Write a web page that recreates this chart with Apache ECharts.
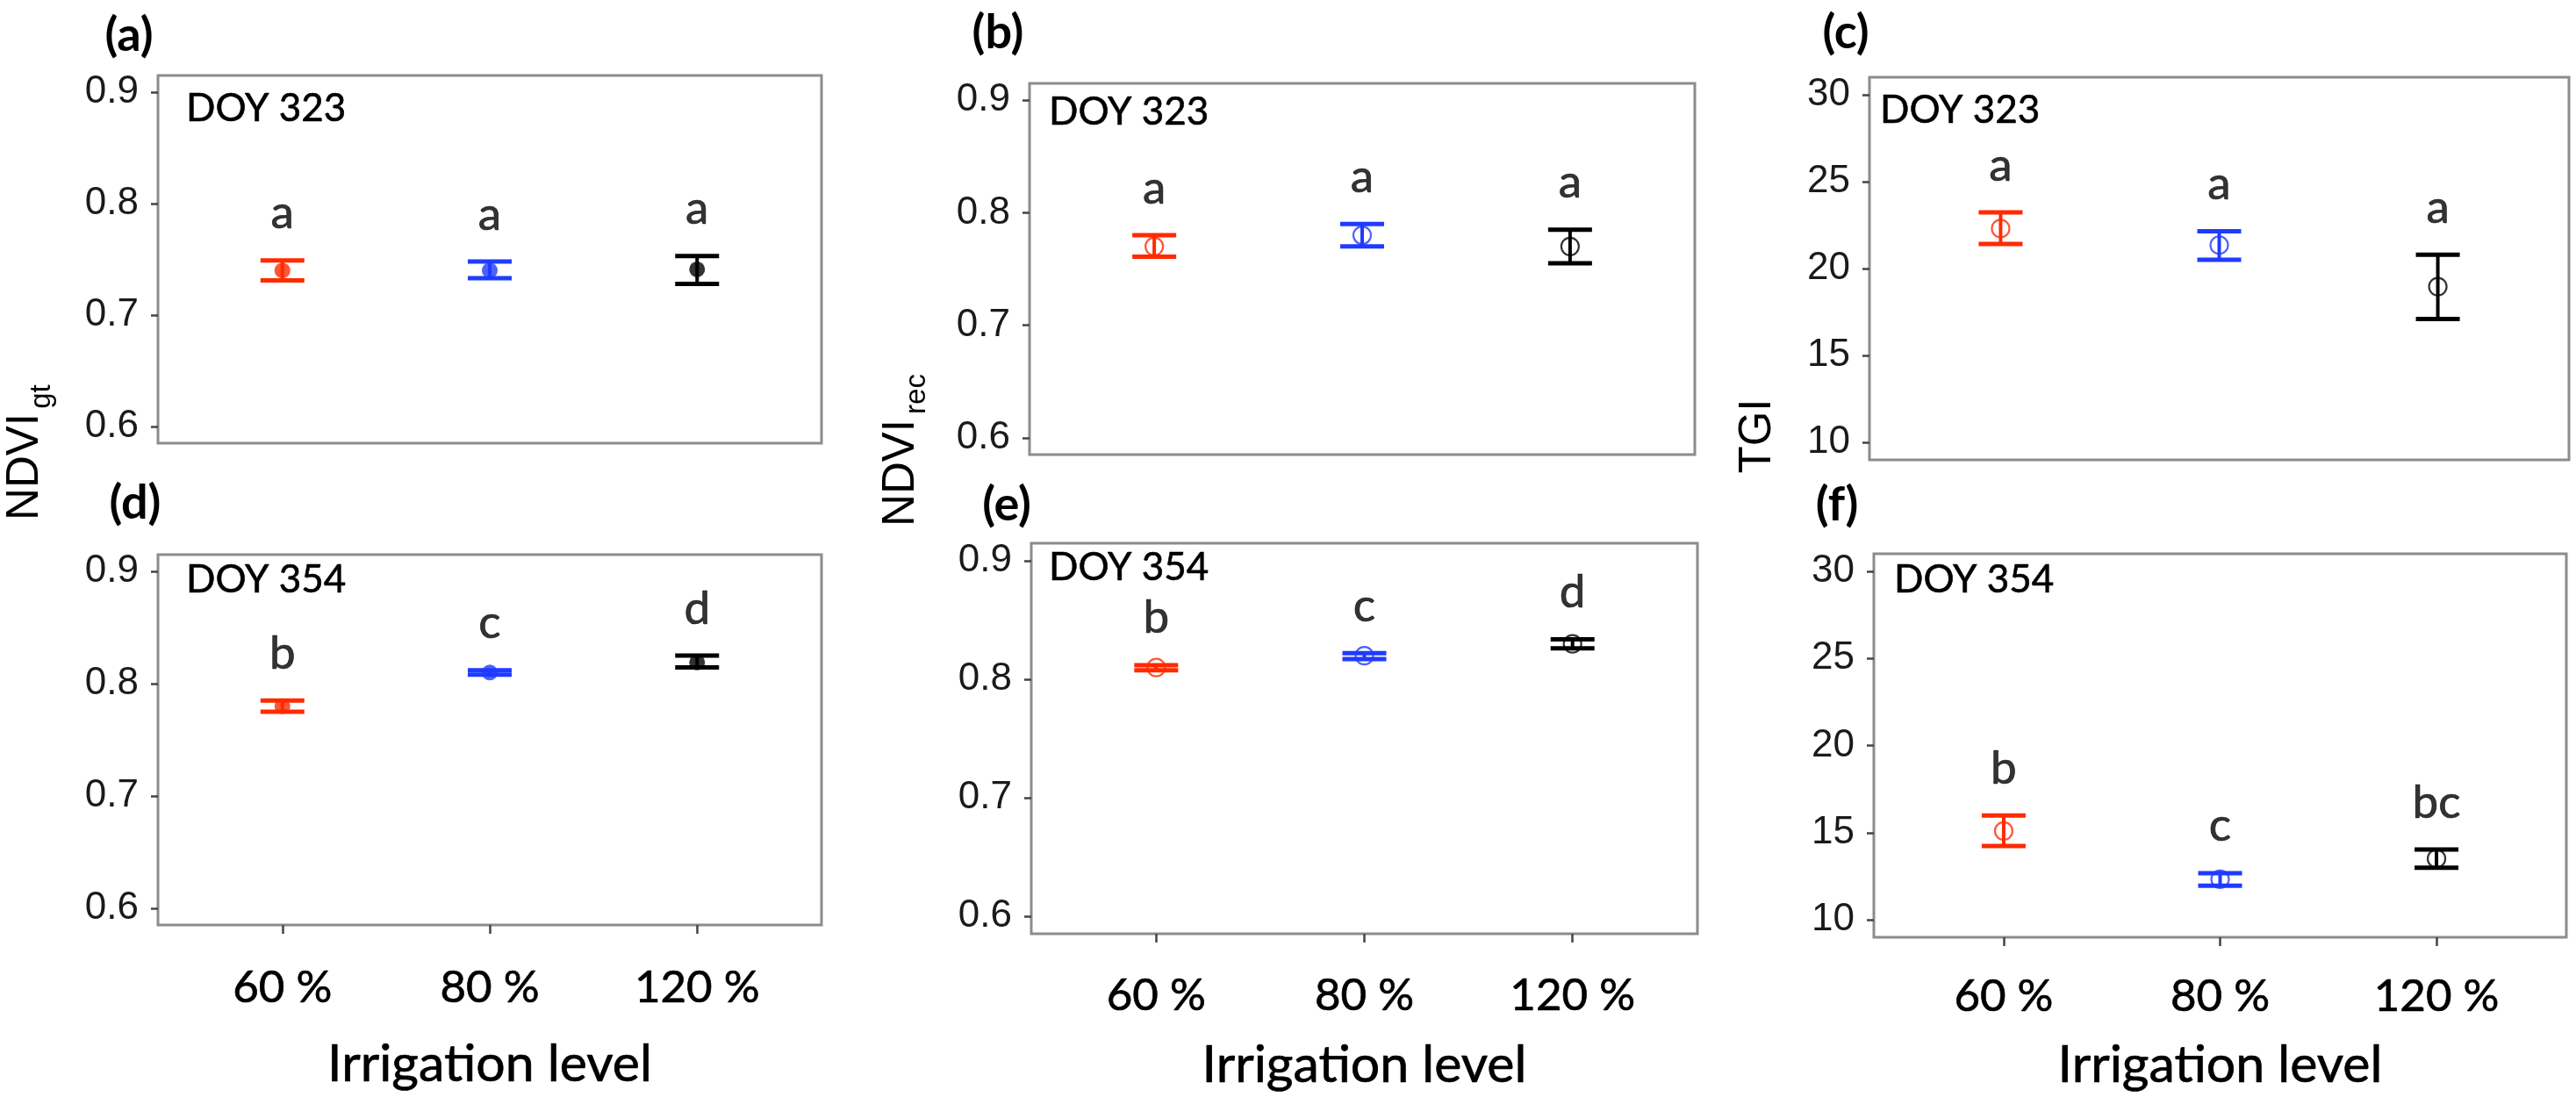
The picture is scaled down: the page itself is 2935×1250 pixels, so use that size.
<!DOCTYPE html>
<html>
<head>
<meta charset="utf-8">
<script src="https://cdn.jsdelivr.net/npm/echarts@6/dist/echarts.min.js"></script>
<style>
html,body{margin:0;padding:0;background:#fff;}
#chart{width:2935px;height:1250px;}
</style>
</head>
<body>
<div id="chart"></div>
<script>
// ---------------- DATA ----------------
const categories = ['60 %', '80 %', '120 %'];
const groupColors = ['#FF2A00', '#1F3BFF', '#000000'];
const ndviTicks = [0.6, 0.7, 0.8, 0.9];
const tgiTicks = [10, 15, 20, 25, 30];
const panelTags = ['(a)', '(b)', '(c)', '(d)', '(e)', '(f)'];
const doyLabels = ['DOY 323', 'DOY 323', 'DOY 323', 'DOY 354', 'DOY 354', 'DOY 354'];

// (a) NDVIgt, DOY 323
const aMean = [0.740, 0.740, 0.741];
const aLow = [0.731, 0.733, 0.728];
const aHigh = [0.749, 0.748, 0.753];
const aLetters = ['a', 'a', 'a'];
// (b) NDVIrec, DOY 323
const bMean = [0.770, 0.780, 0.770];
const bLow = [0.761, 0.770, 0.755];
const bHigh = [0.780, 0.790, 0.785];
const bLetters = ['a', 'a', 'a'];
// (c) TGI, DOY 323
const cMean = [22.3, 21.35, 18.96];
const cLow = [21.41, 20.5, 17.1];
const cHigh = [23.23, 22.15, 20.8];
const cLetters = ['a', 'a', 'a'];
// (d) NDVIgt, DOY 354
const dMean = [0.780, 0.810, 0.819];
const dLow = [0.775, 0.808, 0.8145];
const dHigh = [0.785, 0.812, 0.825];
const dLetters = ['b', 'c', 'd'];
// (e) NDVIrec, DOY 354
const eMean = [0.810, 0.820, 0.830];
const eLow = [0.8077, 0.8172, 0.8262];
const eHigh = [0.812, 0.8222, 0.8338];
const eLetters = ['b', 'c', 'd'];
// (f) TGI, DOY 354
const fMean = [15.1, 12.33, 13.51];
const fLow = [14.24, 11.96, 12.99];
const fHigh = [15.99, 12.68, 14.03];
const fLetters = ['b', 'c', 'bc'];

// ---------------- LAYOUT / STYLE ----------------
const panelData = [
  {mean: aMean, low: aLow, high: aHigh, letters: aLetters, ticks: ndviTicks, min: 0.585, max: 0.915, filled: true},
  {mean: bMean, low: bLow, high: bHigh, letters: bLetters, ticks: ndviTicks, min: 0.585, max: 0.915, filled: false},
  {mean: cMean, low: cLow, high: cHigh, letters: cLetters, ticks: tgiTicks, min: 9, max: 31, filled: false},
  {mean: dMean, low: dLow, high: dHigh, letters: dLetters, ticks: ndviTicks, min: 0.585, max: 0.915, filled: true},
  {mean: eMean, low: eLow, high: eHigh, letters: eLetters, ticks: ndviTicks, min: 0.585, max: 0.915, filled: false},
  {mean: fMean, low: fLow, high: fHigh, letters: fLetters, ticks: tgiTicks, min: 9, max: 31, filled: false}
];
const panelBoxes = [
  {left: 180, top: 86, width: 756, height: 419, bottom: false},
  {left: 1173, top: 95, width: 758, height: 423, bottom: false},
  {left: 2130, top: 88, width: 797, height: 436, bottom: false},
  {left: 180, top: 632, width: 756, height: 422, bottom: true, labelMargin: 46, nameGap: 129},
  {left: 1175, top: 619, width: 759, height: 445, bottom: true, labelMargin: 45, nameGap: 120},
  {left: 2135, top: 631, width: 789, height: 437, bottom: true, labelMargin: 42, nameGap: 116}
];
const tagPos = [[147, 41], [1137, 38], [2103, 38], [154, 574], [1147, 576], [2093, 576]];
const doyPos = [[212, 124], [1195, 128], [2142, 126], [212, 661], [1195, 647], [2158, 661]];

const SANS = '"Liberation Sans", Arial, sans-serif';
const CAL = 'Lato, "Open Sans", sans-serif';
const THICK = {textBorderColor: '#000', textBorderWidth: 0.7};

const grids = [], xAxes = [], yAxes = [], series = [], graphics = [];

panelBoxes.forEach((b, i) => {
  const p = panelData[i];
  grids.push({
    left: b.left, top: b.top, width: b.width, height: b.height,
    containLabel: false, outerBoundsMode: 'none',
    show: true, backgroundColor: '#fff', borderColor: '#8c8c8c', borderWidth: 3
  });
  xAxes.push({
    type: 'value', gridIndex: i, min: 0.4, max: 3.6,
    splitLine: {show: false}, axisLine: {show: false},
    axisTick: {show: b.bottom, customValues: [1, 2, 3], length: 10, lineStyle: {color: '#444', width: 2.5}},
    axisLabel: Object.assign({
      show: b.bottom, customValues: [1, 2, 3], margin: b.labelMargin || 40,
      formatter: v => categories[Math.round(v) - 1],
      fontFamily: CAL, fontSize: 51, color: '#000'
    }, THICK),
    name: b.bottom ? 'Irrigation level' : '',
    nameLocation: 'middle', nameGap: b.nameGap || 120,
    nameTextStyle: Object.assign({fontFamily: CAL, fontSize: 59, color: '#000'}, THICK)
  });
  yAxes.push({
    type: 'value', gridIndex: i, min: p.min, max: p.max,
    splitLine: {show: false}, axisLine: {show: false},
    axisTick: {show: true, customValues: p.ticks, length: 8, lineStyle: {color: '#444', width: 2.5}},
    axisLabel: {show: true, customValues: p.ticks, margin: 22, fontFamily: SANS, fontSize: 44, color: '#1a1a1a'}
  });

  // error bars
  series.push({
    type: 'custom', xAxisIndex: i, yAxisIndex: i, silent: true, z: 2,
    data: categories.map((c, k) => [k + 1, p.low[k], p.high[k], k]),
    encode: {x: 0, y: [1, 2]},
    renderItem: function (params, api) {
      const x = api.value(0);
      const pLo = api.coord([x, api.value(1)]);
      const pHi = api.coord([x, api.value(2)]);
      const col = groupColors[api.value(3)];
      const hw = 25;
      return {
        type: 'group',
        children: [
          {type: 'line', shape: {x1: pLo[0], y1: pLo[1], x2: pHi[0], y2: pHi[1]}, style: {stroke: col, lineWidth: 4}},
          {type: 'line', shape: {x1: pLo[0] - hw, y1: pLo[1], x2: pLo[0] + hw, y2: pLo[1]}, style: {stroke: col, lineWidth: 5}},
          {type: 'line', shape: {x1: pHi[0] - hw, y1: pHi[1], x2: pHi[0] + hw, y2: pHi[1]}, style: {stroke: col, lineWidth: 5}}
        ]
      };
    }
  });
  // mean points
  series.push({
    type: 'scatter', xAxisIndex: i, yAxisIndex: i, silent: true, z: 3,
    symbol: 'circle', symbolSize: p.filled ? 18 : 20,
    data: categories.map((c, k) => ({
      value: [k + 1, p.mean[k]],
      itemStyle: p.filled
        ? {color: groupColors[k], borderWidth: 0}
        : {color: 'rgba(0,0,0,0)', borderColor: groupColors[k], borderWidth: 2.2}
    }))
  });
  // significance letters
  series.push({
    type: 'scatter', xAxisIndex: i, yAxisIndex: i, silent: true, z: 4,
    symbolSize: 0, itemStyle: {color: 'rgba(0,0,0,0)'},
    data: categories.map((c, k) => [k + 1, p.high[k]]),
    label: Object.assign({
      show: true, position: 'top', distance: 27,
      formatter: prm => p.letters[prm.dataIndex],
      fontFamily: CAL, fontSize: 53, color: '#000'
    }, THICK)
  });

  graphics.push({
    type: 'text', x: tagPos[i][0], y: tagPos[i][1],
    style: {text: panelTags[i], fontFamily: CAL, fontWeight: 'bold', fontSize: 54, fill: '#000', align: 'center', verticalAlign: 'middle'}
  });
  graphics.push({
    type: 'text', x: doyPos[i][0], y: doyPos[i][1], z: 10,
    style: {text: doyLabels[i], fontFamily: CAL, fontSize: 44, fill: '#000', stroke: '#000', lineWidth: 0.6, align: 'left', verticalAlign: 'middle'}
  });
});

// y-axis titles (rotated)
const yTitles = [
  {main: 'NDVI', sub: 'gt', x: 29, y: 532, sx: 48, sy: 452},
  {main: 'NDVI', sub: 'rec', x: 1027, y: 539, sx: 1045, sy: 449},
  {main: 'TGI', sub: '', x: 2003, y: 497}
];
yTitles.forEach(t => {
  graphics.push({
    type: 'text', x: t.x, y: t.y, rotation: Math.PI / 2,
    style: {text: t.main, fontFamily: SANS, fontSize: 51, fill: '#000', align: 'center', verticalAlign: 'middle'}
  });
  if (t.sub) {
    graphics.push({
      type: 'text', x: t.sx, y: t.sy, rotation: Math.PI / 2,
      style: {text: t.sub, fontFamily: SANS, fontSize: 33, fill: '#000', align: 'center', verticalAlign: 'middle'}
    });
  }
});

const chart = echarts.init(document.getElementById('chart'), null, {renderer: 'canvas'});
chart.setOption({
  animation: false,
  backgroundColor: '#fff',
  grid: grids,
  xAxis: xAxes,
  yAxis: yAxes,
  series: series,
  graphic: graphics
});
</script>
</body>
</html>
